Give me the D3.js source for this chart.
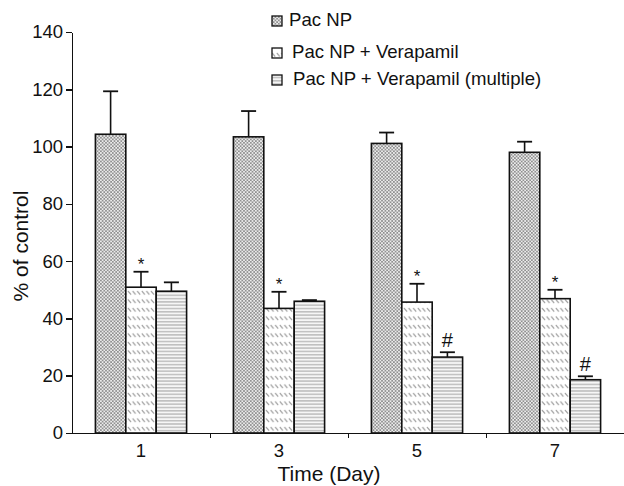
<!DOCTYPE html>
<html lang="en">
<head>
  <meta charset="UTF-8">
  <title>% of control over time</title>
  <script src="https://cdn.jsdelivr.net/npm/d3@7"></script>
  <style>
    body { margin: 0; background: #fff; }
    svg { display: block; font-family: "Liberation Sans", Arial, sans-serif; }
    .axis path, .axis line { stroke: #111; stroke-width: 1.6; shape-rendering: crispEdges; }
    .axis text { font-size: 18.5px; fill: #111; }
    .title { font-size: 21px; fill: #111; }
    .legend text { font-size: 18.6px; fill: #111; }
  </style>
</head>
<body>
<svg width="624" height="486"></svg>
<script>
  // data
  const days = ['1', '3', '5', '7'];
  const series = ['Pac NP', 'Pac NP + Verapamil', 'Pac NP + Verapamil (multiple)'];
  const pacNP = [104.3, 103.4, 101.1, 98.0];
  const pacNPErr = [15.0, 9.0, 3.8, 3.7];
  const pacVera = [50.9, 43.5, 45.7, 46.9];
  const pacVeraErr = [5.4, 5.8, 6.4, 3.1];
  const pacVeraMulti = [49.5, 46.0, 26.5, 18.6];
  const pacVeraMultiErr = [3.1, 0.4, 1.7, 1.2];
  const marks = [['', '*', ''], ['', '*', ''], ['', '*', '#'], ['', '*', '#']];
  const yTicks = [0, 20, 40, 60, 80, 100, 120, 140];

  const values = [pacNP, pacVera, pacVeraMulti];
  const errors = [pacNPErr, pacVeraErr, pacVeraMultiErr];

  const svg = d3.select('svg');
  const plotLeft = 72, plotRight = 624, plotTop = 32, plotBottom = 433;

  const y = d3.scaleLinear().domain([0, 140]).range([plotBottom, plotTop]);
  const x0 = d3.scaleBand().domain(days).range([plotLeft, plotRight]).padding(0);
  const x1 = d3.scaleBand().domain(series).range([0, x0.bandwidth()])
    .paddingInner(0).paddingOuter(0.77);

  // fill patterns
  const defs = svg.append('defs');
  const p1 = defs.append('pattern').attr('id', 'pat0')
    .attr('patternUnits', 'userSpaceOnUse').attr('width', 3.4).attr('height', 3.4);
  p1.append('rect').attr('width', 3.4).attr('height', 3.4).attr('fill', '#ececec');
  p1.append('path').attr('d', 'M0,0L3.4,3.4M3.4,0L0,3.4').attr('stroke', '#8a8a8a').attr('stroke-width', 0.8);

  const p2 = defs.append('pattern').attr('id', 'pat1')
    .attr('patternUnits', 'userSpaceOnUse').attr('width', 4.6).attr('height', 8.5);
  p2.append('rect').attr('width', 4.6).attr('height', 8.5).attr('fill', '#fff');
  p2.append('path').attr('d', 'M0.8,2L3.8,5.6').attr('stroke', '#8f8f8f').attr('stroke-width', 1);

  const p3 = defs.append('pattern').attr('id', 'pat2')
    .attr('patternUnits', 'userSpaceOnUse').attr('width', 6).attr('height', 3.3);
  p3.append('rect').attr('width', 6).attr('height', 3.3).attr('fill', '#f6f6f6');
  p3.append('path').attr('d', 'M0,1.6L6,1.6').attr('stroke', '#b0b0b0').attr('stroke-width', 1.2);

  // bars
  const groups = svg.append('g').selectAll('g').data(days).join('g')
    .attr('transform', d => `translate(${x0(d)},0)`);

  groups.each(function (day, di) {
    const g = d3.select(this);
    series.forEach((s, si) => {
      const v = values[si][di];
      const e = errors[si][di];
      const bx = x1(s), bw = x1.bandwidth(), cx = bx + bw / 2;
      g.append('line')
        .attr('x1', cx).attr('x2', cx)
        .attr('y1', y(v)).attr('y2', y(v + e))
        .attr('stroke', '#111').attr('stroke-width', 1.6);
      g.append('line')
        .attr('x1', cx - 7.5).attr('x2', cx + 7.5)
        .attr('y1', y(v + e)).attr('y2', y(v + e))
        .attr('stroke', '#111').attr('stroke-width', 1.8);
      g.append('rect')
        .attr('x', bx).attr('y', y(v))
        .attr('width', bw).attr('height', y(0) - y(v))
        .attr('fill', `url(#pat${si})`)
        .attr('stroke', '#111').attr('stroke-width', 1.6);
      const m = marks[di][si];
      if (m) {
        g.append('text')
          .attr('x', cx).attr('y', y(v + e) - (m === '#' ? 5 : 2))
          .attr('text-anchor', 'middle')
          .style('font-size', m === '#' ? '20px' : '17px')
          .attr('fill', '#111')
          .text(m);
      }
    });
  });

  // y axis
  svg.append('g').attr('class', 'axis')
    .attr('transform', `translate(${plotLeft},0)`)
    .call(d3.axisLeft(y).tickValues(yTicks).tickSize(6).tickPadding(3).tickSizeOuter(0));

  // x axis: line and minor ticks at group edges, labels at centres
  const edges = d3.scaleLinear().domain([0, days.length]).range([plotLeft, plotRight]);
  svg.append('g').attr('class', 'axis')
    .attr('transform', `translate(0,${plotBottom})`)
    .call(d3.axisBottom(edges).tickValues(d3.range(1, days.length + 1)).tickFormat('').tickSize(5).tickSizeOuter(0));
  svg.append('g').attr('class', 'axis')
    .attr('transform', `translate(0,${plotBottom})`)
    .call(d3.axisBottom(x0).tickSize(0).tickPadding(11))
    .call(g => g.select('.domain').remove());

  // axis titles
  svg.append('text').attr('class', 'title')
    .attr('x', 329).attr('y', 481)
    .attr('text-anchor', 'middle')
    .text('Time (Day)');
  svg.append('text').attr('class', 'title')
    .attr('transform', 'translate(28,246) rotate(-90)')
    .attr('text-anchor', 'middle')
    .text('% of control');

  // legend
  const legend = svg.append('g').attr('class', 'legend');
  const legendY = [26, 58, 85];
  const legendX = [289, 292, 293];
  series.forEach((s, i) => {
    legend.append('rect')
      .attr('x', 272).attr('y', legendY[i] - 10)
      .attr('width', 10).attr('height', 10)
      .attr('fill', `url(#pat${i})`)
      .attr('stroke', '#111').attr('stroke-width', 1.3);
    legend.append('text')
      .attr('x', legendX[i]).attr('y', legendY[i])
      .text(s);
  });
</script>
</body>
</html>
